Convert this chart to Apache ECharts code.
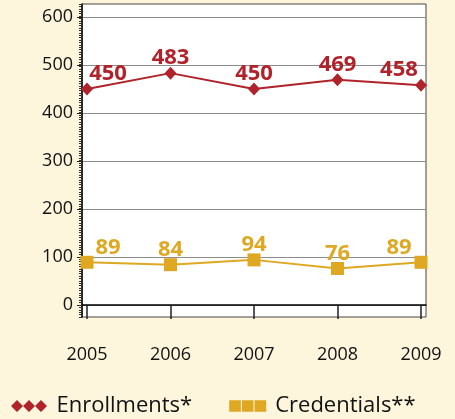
<!DOCTYPE html>
<html>
<head>
<meta charset="utf-8">
<script src="https://cdn.jsdelivr.net/npm/echarts@6/dist/echarts.min.js"></script>
<style>
  html, body { margin: 0; padding: 0; background: #fdf5dc; }
  #chart { width: 455px; height: 419px; }
</style>
</head>
<body>
<div id="chart"></div>
<script>
var years = [2005, 2006, 2007, 2008, 2009];
var enrollments = [450, 483, 450, 469, 458];
var credentials = [89, 84, 94, 76, 89];
var yTicks = [0, 100, 200, 300, 400, 500, 600];

var red = '#b0232a';
var gold = '#dea823';

// first label sits right of the point, last one left of it
function buildData(values) {
    return values.map(function (v, i) {
        var dx = 0;
        if (i === 0) dx = 21;
        if (i === values.length - 1) dx = -22;
        return {
            value: [years[i], v],
            label: { offset: [dx, -15] }
        };
    });
}

var myChart = echarts.init(document.getElementById('chart'));
var option = {
    backgroundColor: '#fdf5dc',
    animation: false,
    textStyle: { fontFamily: 'Open Sans' },
    grid: {
        left: 82,
        top: 4,
        right: 29,
        bottom: 102,
        show: true,
        backgroundColor: '#fff',
        borderColor: '#444',
        borderWidth: 1
    },
    legend: {
        left: 6,
        top: 390,
        itemWidth: 37,
        itemHeight: 12,
        itemGap: 37,
        textStyle: {
            fontFamily: 'Open Sans',
            fontSize: 22,
            color: '#111',
            padding: [0, 0, 0, 4]
        },
        data: [
            { name: 'Enrollments*', icon: 'path://M0,6L6,0L12,6L6,12ZM12,6L18,0L24,6L18,12ZM24,6L30,0L36,6L30,12Z' },
            { name: 'Credentials**', icon: 'path://M0,0H11V11H0ZM12,0H23V11H12ZM24,0H35V11H24Z' }
        ]
    },
    xAxis: {
        type: 'value',
        min: 2004.94,
        max: 2009.06,
        axisLine: { show: true, lineStyle: { color: '#000', width: 1.5 } },
        axisTick: {
            show: true,
            customValues: years,
            length: 14,
            lineStyle: { color: '#222', width: 1.5 }
        },
        axisLabel: {
            customValues: years,
            margin: 29,
            fontSize: 18,
            color: '#111',
            fontFamily: 'Open Sans',
            formatter: function (v) { return String(v); }
        },
        splitLine: { show: false }
    },
    yAxis: [
        {
            type: 'value',
            min: -25,
            max: 627,
            axisLine: { show: true, lineStyle: { color: '#000', width: 1.5 } },
            axisTick: {
                show: true,
                customValues: yTicks,
                length: 5,
                lineStyle: { color: '#222' }
            },
            axisLabel: {
                customValues: yTicks,
                margin: 9,
                fontSize: 18,
                color: '#111',
                fontFamily: 'Open Sans'
            },
            splitLine: {
                show: true,
                lineStyle: { color: '#8c8c8c', width: 1 }
            }
        },
        {
            // minor ticks only
            type: 'value',
            position: 'left',
            min: -25,
            max: 625,
            interval: 5,
            axisLine: { show: false },
            axisTick: { show: true, length: 3, lineStyle: { color: '#333' } },
            axisLabel: { show: false },
            splitLine: { show: false }
        }
    ],
    series: [
        {
            name: 'Enrollments*',
            type: 'line',
            data: buildData(enrollments),
            symbol: 'diamond',
            symbolSize: [12, 13],
            color: red,
            lineStyle: { color: red, width: 2 },
            label: {
                show: true,
                position: 'inside',
                fontSize: 22,
                fontWeight: 'bold',
                color: red,
                fontFamily: 'Open Sans',
                formatter: function (p) { return p.value[1]; }
            }
        },
        {
            name: 'Credentials**',
            type: 'line',
            data: buildData(credentials),
            symbol: 'rect',
            symbolSize: 13,
            color: gold,
            lineStyle: { color: gold, width: 2 },
            label: {
                show: true,
                position: 'inside',
                fontSize: 22,
                fontWeight: 'bold',
                color: gold,
                fontFamily: 'Open Sans',
                formatter: function (p) { return p.value[1]; }
            }
        }
    ]
};
myChart.setOption(option);
</script>
</body>
</html>
